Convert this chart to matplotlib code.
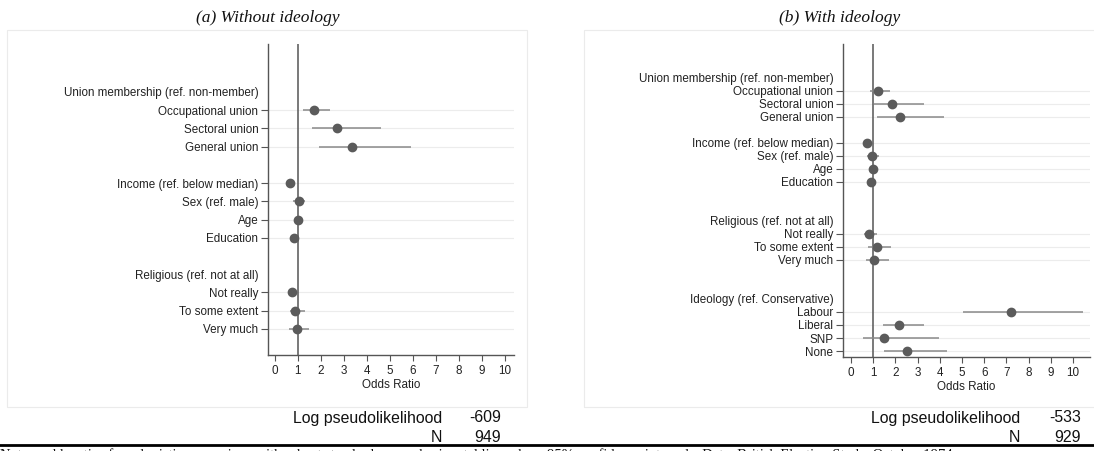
import matplotlib
matplotlib.use("Agg")
import matplotlib.pyplot as plt
from matplotlib.patches import Rectangle


# -----------------------------
# Data (odds ratios with 95% CI)
# -----------------------------

# panel (a): without ideology
vars_a = ["Occupational union", "Sectoral union", "General union",
          "Income (ref. below median)", "Sex (ref. male)", "Age", "Education",
          "Not really", "To some extent", "Very much"]
rows_a = [1, 2, 3, 5, 6, 7, 8, 11, 12, 13]
or_a = [1.70, 2.70, 3.35, 0.65, 1.03, 1.00, 0.83, 0.75, 0.87, 0.95]
lo_a = [1.20, 1.60, 1.90, 0.53, 0.80, 0.90, 0.70, 0.58, 0.65, 0.63]
hi_a = [2.40, 4.60, 5.90, 0.80, 1.30, 1.10, 0.97, 0.97, 1.30, 1.50]
headers_a = ["Union membership (ref. non-member)", "Religious (ref. not at all)"]
header_rows_a = [0, 10]

# panel (b): with ideology
vars_b = ["Occupational union", "Sectoral union", "General union",
          "Income (ref. below median)", "Sex (ref. male)", "Age", "Education",
          "Not really", "To some extent", "Very much",
          "Labour", "Liberal", "SNP", "None"]
rows_b = [1, 2, 3, 5, 6, 7, 8, 12, 13, 14, 18, 19, 20, 21]
or_b = [1.20, 1.85, 2.20, 0.70, 0.93, 1.00, 0.90, 0.81, 1.15, 1.03, 7.20, 2.18, 1.50, 2.54]
lo_b = [0.85, 1.03, 1.17, 0.55, 0.70, 0.90, 0.75, 0.60, 0.75, 0.66, 5.03, 1.46, 0.56, 1.50]
hi_b = [1.78, 3.30, 4.17, 0.88, 1.25, 1.10, 1.05, 1.17, 1.79, 1.70, 10.45, 3.30, 3.98, 4.33]
headers_b = ["Union membership (ref. non-member)", "Religious (ref. not at all)",
             "Ideology (ref. Conservative)"]
header_rows_b = [0, 11, 17]

titles = ["(a) Without ideology", "(b) With ideology"]
loglik = ["-609", "-533"]
n_obs = ["949", "929"]
x_ticks = list(range(0, 11))

note = ("Notes: odds ratios from logistic regressions with robust standard errors; "
        "horizontal lines show 95% confidence intervals. "
        "Data: British Election Study, October 1974.")


# -----------------------------
# Figure
# -----------------------------

W, H = 1094, 451
fig = plt.figure(figsize=(W / 100, H / 100), dpi=100)
plt.rcParams["font.family"] = ["Liberation Sans", "DejaVu Sans"]

dot_col = "#5b5b5b"
ci_col = "#8a8a8a"
axis_col = "#555555"
grid_col = "#ececec"
lab_size = 8.4


def px_axes(left, right, top, bottom):
    return fig.add_axes([left / W, 1 - bottom / H, (right - left) / W, (bottom - top) / H])


def draw_panel(ax, vars_, rows, ors, los, his, headers, header_rows, xlim, ylim):
    for r in rows:
        ax.axhline(r, color=grid_col, lw=0.8, zorder=0)
    ax.axvline(1, color=axis_col, lw=1.1, zorder=1)
    ax.hlines(rows, los, his, color=ci_col, lw=1.1, zorder=2)
    ax.plot(ors, rows, "o", color=dot_col, ms=6, zorder=3)

    all_rows = header_rows + rows
    all_labels = headers + vars_
    ax.set_yticks(all_rows)
    ax.set_yticklabels(all_labels, fontsize=lab_size, color="#222222")
    for t, r in zip(ax.yaxis.get_major_ticks(), all_rows):
        if r in header_rows:
            t.tick1line.set_visible(False)

    ax.set_xticks(x_ticks)
    ax.set_xticklabels([str(v) for v in x_ticks], fontsize=lab_size, color="#222222")
    ax.set_xlabel("Odds Ratio", fontsize=lab_size, color="#222222", labelpad=2)
    ax.set_xlim(*xlim)
    ax.set_ylim(*ylim)

    for s in ["top", "right"]:
        ax.spines[s].set_visible(False)
    for s in ["left", "bottom"]:
        ax.spines[s].set_color(axis_col)
        ax.spines[s].set_linewidth(1.0)
    ax.tick_params(axis="y", length=5, width=0.8, color=axis_col, pad=2)
    ax.tick_params(axis="x", length=4, width=0.8, color=axis_col, pad=3)


# panel boxes
fig.patches.append(Rectangle((7 / W, 1 - 407 / H), 520 / W, 377 / H,
                             transform=fig.transFigure, fill=False,
                             edgecolor="#ebebeb", lw=0.8))
fig.patches.append(Rectangle((584 / W, 1 - 407 / H), 530 / W, 377 / H,
                             transform=fig.transFigure, fill=False,
                             edgecolor="#ebebeb", lw=0.8))

ax_a = px_axes(268, 514, 44, 355)
draw_panel(ax_a, vars_a, rows_a, or_a, lo_a, hi_a, headers_a, header_rows_a,
           (-0.30, 10.39), (14.43, -2.63))

ax_b = px_axes(843, 1090, 44, 357)
draw_panel(ax_b, vars_b, rows_b, or_b, lo_b, hi_b, headers_b, header_rows_b,
           (-0.36, 10.77), (21.46, -2.6))

# titles
title_font = dict(family=["Liberation Serif", "DejaVu Serif"], style="italic",
                  fontsize=12.5, ha="center", va="center", color="#111111")
fig.text(268 / W, 1 - 18 / H, titles[0], **title_font)
fig.text(840 / W, 1 - 18 / H, titles[1], **title_font)

# model statistics
stat_font = dict(fontsize=11.4, va="center", ha="right", color="#111111")
for lab_x, val_x, ll, n in [(442, 501, loglik[0], n_obs[0]),
                            (1020, 1081, loglik[1], n_obs[1])]:
    fig.text(lab_x / W, 1 - 418 / H, "Log pseudolikelihood", **stat_font)
    fig.text(val_x / W, 1 - 418 / H, ll, **stat_font)
    fig.text(lab_x / W, 1 - 437 / H, "N", **stat_font)
    fig.text(val_x / W, 1 - 437 / H, n, **stat_font)

# bottom rule and (cut off) note
fig.add_artist(plt.Line2D([0, 1], [1 - 445 / H, 1 - 445 / H],
                          transform=fig.transFigure, color="black", lw=2))
fig.text(0.0, 1 - 448 / H, note, fontsize=10.5, va="top", ha="left",
         family=["Liberation Serif", "DejaVu Serif"], color="#111111")

fig.savefig("out.png", dpi=100)
